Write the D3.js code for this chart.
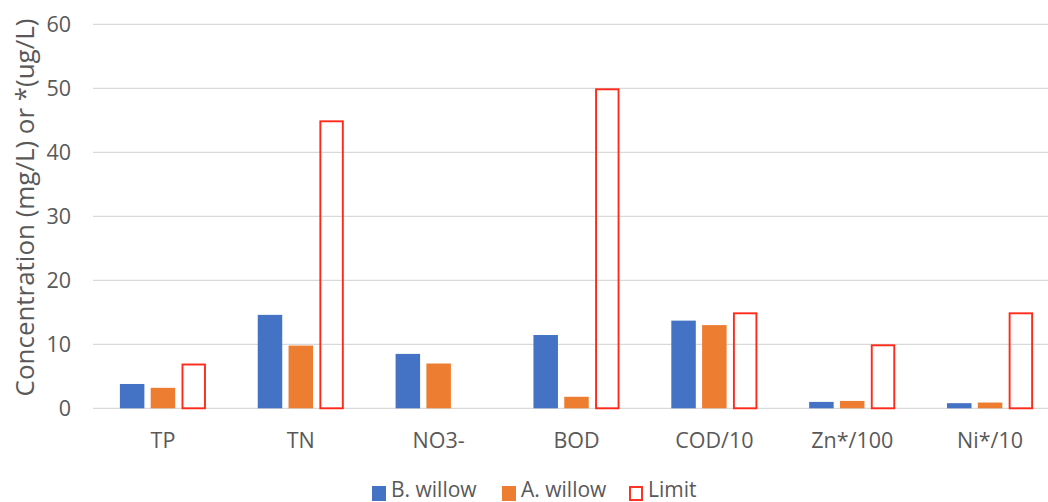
<!DOCTYPE html>
<html><head><meta charset="utf-8">
<script src="https://cdn.jsdelivr.net/npm/d3@7"></script>
<style>
html,body{margin:0;padding:0;background:#fff;}
svg{display:block;font-family:"Open Sans","Noto Sans",sans-serif;}
</style></head>
<body>
<svg id="chart" width="1048" height="502"></svg>
<script>
const categories = ["TP","TN","NO3-","BOD","COD/10","Zn*/100","Ni*/10"];
const seriesNames = ["B. willow","A. willow","Limit"];
const bWillow = [3.8, 14.6, 8.5, 11.45, 13.7, 1.0, 0.8];
const aWillow = [3.2, 9.8, 7.0, 1.8, 13.0, 1.15, 0.9];
const limit   = [7, 45, null, 50, 15, 10, 15];
const yTicks  = [0,10,20,30,40,50,60];
const yTitle  = "Concentration (mg/L) or *(ug/L)";

(function(){
const colors = {"B. willow":"#4472C4","A. willow":"#ED7D31","Limit":"#FF2A1A"};
const FONT = '"Open Sans","Noto Sans",sans-serif';
const FS = 21.5;
const svg = d3.select("#chart");
const pL = 94, pR = 1059, pT = 24.3, pB = 408.3;

const x = d3.scaleBand().domain(categories).range([pL, pR]).paddingInner(0).paddingOuter(0);
const y = d3.scaleLinear().domain([0,60]).range([pB, pT]);

// grid
svg.append("g").selectAll("line").data(yTicks).join("line")
  .attr("x1", pL - 1).attr("x2", 1048)
  .attr("y1", d => y(d)).attr("y2", d => y(d))
  .attr("stroke", "#D9D9D9").attr("stroke-width", 1.3);

// y tick labels
const yAxis = d3.axisLeft(y).tickValues(yTicks).tickSize(0).tickPadding(0);
const ya = svg.append("g").attr("transform", `translate(71,0)`).call(yAxis);
ya.select(".domain").remove();
ya.selectAll("text").attr("fill","#595959").attr("font-size", FS + "px")
  .attr("font-family", FONT);

// x labels
const xAxis = d3.axisBottom(x).tickSize(0).tickPadding(0);
const xa = svg.append("g").attr("transform", `translate(0,432.5)`).call(xAxis);
xa.select(".domain").remove();
xa.selectAll("text").attr("fill","#595959").attr("font-size", FS + "px")
  .attr("font-family", FONT);

// bars
const barW = 24.5, gap = 6.3;
const groupW = 3*barW + 2*gap;
const inner = d3.scaleBand().domain(seriesNames).range([0, groupW]).paddingInner(gap/(barW+gap)).paddingOuter(0);
const data = [];
categories.forEach((c,i) => {
  data.push({c, s:"B. willow", v:bWillow[i]});
  data.push({c, s:"A. willow", v:aWillow[i]});
  if (limit[i] != null) data.push({c, s:"Limit", v:limit[i]});
});
const gx = c => x(c) + x.bandwidth()/2 - groupW/2;

svg.append("g").selectAll("rect").data(data.filter(d => d.s !== "Limit")).join("rect")
  .attr("x", d => gx(d.c) + inner(d.s))
  .attr("width", inner.bandwidth())
  .attr("y", d => y(d.v))
  .attr("height", d => y(0) - y(d.v))
  .attr("fill", d => colors[d.s]);

svg.append("g").selectAll("rect").data(data.filter(d => d.s === "Limit")).join("rect")
  .attr("x", d => gx(d.c) + inner(d.s) + 1)
  .attr("width", inner.bandwidth() - 2)
  .attr("y", d => y(d.v) + 1)
  .attr("height", d => y(0) - y(d.v) - 1)
  .attr("fill", "none")
  .attr("stroke", colors["Limit"]).attr("stroke-width", 1.9);

// y title (sized to span the same length as the reference)
const t = svg.append("text")
  .attr("transform", `translate(25,207.5) rotate(-90)`)
  .attr("text-anchor","middle").attr("dy","0.36em")
  .attr("fill","#595959").attr("font-size","20px")
  .text(yTitle);
const len = t.node().getComputedTextLength();
if (len > 0) t.attr("font-size", (20 * 378 / len).toFixed(2) + "px");

// legend
const legendItems = [
  {s:"B. willow", x:372},
  {s:"A. willow", x:502},
  {s:"Limit", x:629}
];
const lg = svg.append("g");
legendItems.forEach(it => {
  if (it.s === "Limit") {
    lg.append("rect").attr("x", it.x+1).attr("y", 487).attr("width", 12).attr("height", 13)
      .attr("fill","none").attr("stroke", colors[it.s]).attr("stroke-width", 1.9);
  } else {
    lg.append("rect").attr("x", it.x).attr("y", 486).attr("width", 14).attr("height", 15)
      .attr("fill", colors[it.s]);
  }
  lg.append("text").attr("x", it.x + 19).attr("y", 496.5)
    .attr("fill","#595959").attr("font-size", "21px").text(it.s);
});
})();
</script>
</body></html>
